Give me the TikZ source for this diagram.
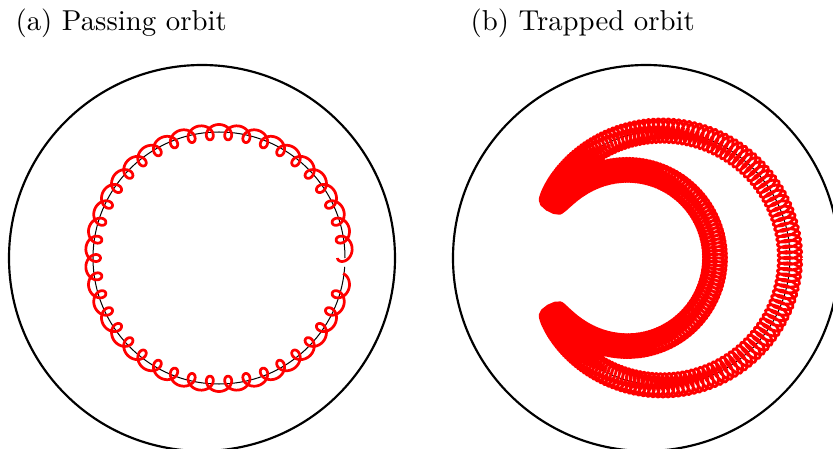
\documentclass[tikz,border=0pt]{standalone}
\usepackage{xcolor}
\usepackage{tikz}
\definecolor{orbitred}{HTML}{FF0000}

\tikzset{
  wall/.style={draw=black, line width=0.75pt},
  gcline/.style={draw=black, line width=0.35pt},
  orbit/.style={draw=orbitred, line width=0.95pt, line join=round},
}

\begin{document}
\begin{tikzpicture}[x=0.3472pt, y=-0.3472pt,
    declare function={
      bt(\s)=0.947368*\s;
      bth(\s)=151*sin(bt(\s));
      brr(\s)=107.5+24.5*cos(bt(\s));
      bcx(\s)=645+13*cos(bt(\s));
      gph(\s)=360*(\s-floor(\s));
      pth(\s)=8.181818*\s;
    }]
  \useasboundingbox (0,0) rectangle (833,449);
  \clip (0,0) rectangle (833,449);

  % titles
  \node[anchor=base west, inner sep=0pt] (titleA) at (15,31) {(a) Passing orbit};
  \node[anchor=base west, inner sep=0pt] (titleB) at (470,31) {(b) Trapped orbit};

  % (a) passing orbit
  \draw[wall] (202,258) circle (193);
  \draw[gcline] (219,258) ++(0:126) arc[start angle=0, end angle=-356, radius=126];
  \draw[orbit] plot[domain=0:42.72, samples=1300, variable=\s]
    ({219 + 126*cos(pth(\s)) + 7.5*cos(gph(\s) - pth(\s) + 180)},
     {258 - 126*sin(pth(\s)) - 7.5*sin(gph(\s) - pth(\s) + 180)});

  % (b) trapped orbit
  \draw[wall] (646,258) circle (193);
  \draw[gcline] plot[domain=0:380, samples=400, variable=\s]
    ({bcx(\s) + brr(\s)*cos(bth(\s))}, {258 - brr(\s)*sin(bth(\s))});
  \draw[orbit] plot[domain=0:380, samples=3800, variable=\s]
    ({bcx(\s) + brr(\s)*cos(bth(\s)) + 12*cos(gph(\s))*cos(bth(\s)) - 5*sin(gph(\s))*sin(bth(\s))},
     {258 - brr(\s)*sin(bth(\s)) - 12*cos(gph(\s))*sin(bth(\s)) - 5*sin(gph(\s))*cos(bth(\s))});
\end{tikzpicture}
\end{document}
